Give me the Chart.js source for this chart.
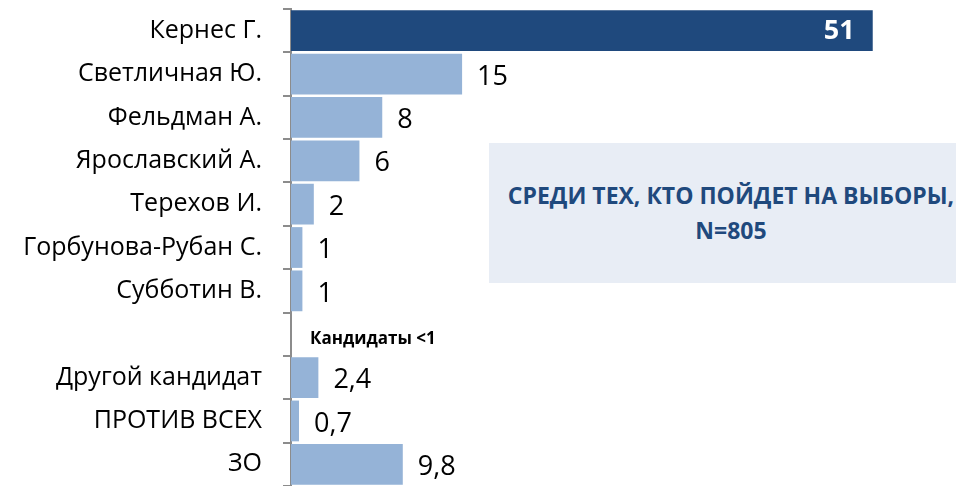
<!DOCTYPE html>
<html>
<head>
<meta charset="utf-8">
<script src="https://cdn.jsdelivr.net/npm/chart.js@4.4.0/dist/chart.umd.min.js"></script>
<style>
  html, body { margin: 0; padding: 0; background: #fff; overflow: hidden; }
  #wrap { position: relative; width: 956px; height: 486px; }
  #note {
    position: absolute; left: 489px; top: 143px; width: 484px; height: 140px;
    background: #e8edf5; color: #1f497d; font-family: 'Open Sans', sans-serif;
    font-weight: bold; font-size: 23px; line-height: 35px; text-align: center;
    display: flex; align-items: center; justify-content: center;
  }
</style>
</head>
<body>
<div id="wrap">
  <canvas id="chart" width="956" height="486"></canvas>
  <div id="note"><div>СРЕДИ ТЕХ, КТО ПОЙДЕТ НА ВЫБОРЫ,<br>N=805</div></div>
</div>
<script>
// --- Данные ---
const categories = ['Кернес Г.', 'Светличная Ю.', 'Фельдман А.', 'Ярославский А.', 'Терехов И.',
  'Горбунова-Рубан С.', 'Субботин В.', '', 'Другой кандидат', 'ПРОТИВ ВСЕХ', 'ЗО'];
const values = [51, 15, 8, 6, 2, 1, 1, null, 2.4, 0.7, 9.8];
const valueLabels = ['51', '15', '8', '6', '2', '1', '1', 'Кандидаты <1', '2,4', '0,7', '9,8'];

const dark = '#1f497d';
const light = '#95b3d7';
const fontFamily = "'Open Sans', sans-serif";

// подписи значений справа от столбцов
const labelPlugin = {
  id: 'valueLabels',
  afterDatasetsDraw(chart) {
    const ctx = chart.ctx;
    const meta = chart.getDatasetMeta(0);
    const xScale = chart.scales.x;
    ctx.save();
    ctx.textBaseline = 'middle';
    meta.data.forEach((bar, i) => {
      const y = chart.scales.y.getPixelForValue(i);
      if (values[i] === null) {
        ctx.font = 'bold 17px ' + fontFamily;
        ctx.fillStyle = '#000';
        ctx.textAlign = 'left';
        ctx.fillText(valueLabels[i], xScale.left + 19, y + 5);
      } else if (i === 0) {
        ctx.font = 'bold 27px ' + fontFamily;
        ctx.fillStyle = '#fff';
        ctx.textAlign = 'right';
        ctx.fillText(valueLabels[i], bar.x - 18, y + 1);
      } else {
        ctx.font = '27px ' + fontFamily;
        ctx.fillStyle = '#000';
        ctx.textAlign = 'left';
        ctx.fillText(valueLabels[i], bar.x + 15, y + 3);
      }
    });
    ctx.restore();
  }
};

new Chart(document.getElementById('chart'), {
  type: 'bar',
  data: {
    labels: categories,
    datasets: [{
      data: values,
      backgroundColor: values.map((v, i) => i === 0 ? dark : light),
      borderWidth: 0,
      categoryPercentage: 1,
      barPercentage: 0.94
    }]
  },
  options: {
    indexAxis: 'y',
    responsive: false,
    animation: false,
    layout: { padding: { top: 9, right: 0, bottom: 0, left: 0 } },
    plugins: { legend: { display: false }, tooltip: { enabled: false } },
    scales: {
      x: { display: false, min: 0, max: 58.3 },
      y: {
        afterFit(scale) {
          scale.width = 291;
          scale.paddingTop = 0;
          scale.paddingBottom = 0;
        },
        border: { display: true, color: '#8c8c8c', width: 2 },
        grid: { offset: true, drawOnChartArea: false, drawTicks: true, tickLength: 8, color: '#8c8c8c', lineWidth: 2 },
        ticks: { color: '#000', padding: 21, font: { family: fontFamily, size: 25 } }
      }
    }
  },
  plugins: [labelPlugin]
});
</script>
</body>
</html>
